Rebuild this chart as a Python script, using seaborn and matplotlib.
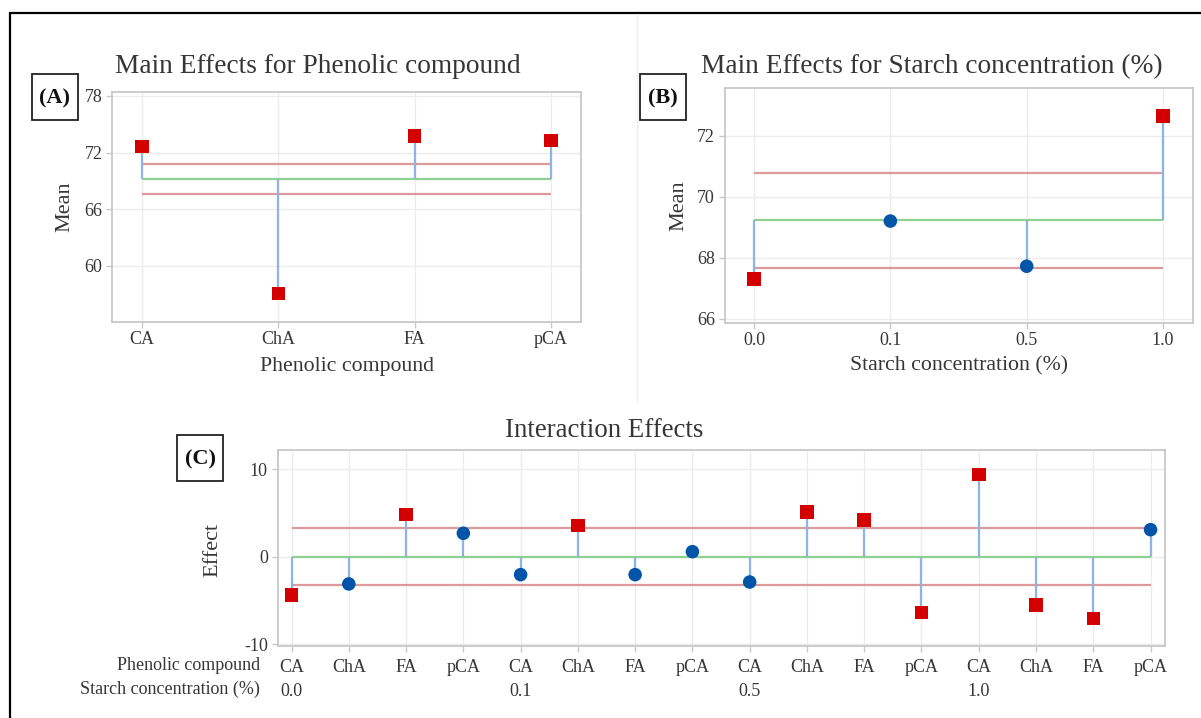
import numpy as np
import pandas as pd
import matplotlib
matplotlib.use("Agg")
import matplotlib.pyplot as plt
import matplotlib.patches as mpatches
from matplotlib.lines import Line2D
import seaborn as sns

# ---------------- data ----------------
phenolic_labels = ["CA", "ChA", "FA", "pCA"]
phenolic_means = [72.65, 57.1, 73.75, 73.3]
phenolic_center = 69.2
phenolic_limits = [67.65, 70.75]

starch_labels = ["0.0", "0.1", "0.5", "1.0"]
starch_means = [67.3, 69.2, 67.72, 72.65]
starch_center = 69.22
starch_limits = [67.66, 70.79]

inter_phenolic = ["CA", "ChA", "FA", "pCA"] * 4
inter_starch = ["0.0", "", "", "", "0.1", "", "", "", "0.5", "", "", "", "1.0", "", "", ""]
inter_effects = [-4.37, -3.11, 4.83, 2.67, -2.05, 3.58, -2.05, 0.57,
                 -2.89, 5.1, 4.18, -6.38, 9.39, -5.51, -7.03, 3.08]
inter_center = 0.0
inter_limits = [-3.25, 3.25]

# ---------------- style ----------------
sns.set_theme(style="whitegrid")
plt.rcParams["font.family"] = ["Liberation Serif", "DejaVu Serif"]
plt.rcParams["axes.unicode_minus"] = False
TXT = "#363636"
RED = "#d40000"
BLUE = "#0055a8"
STEM = "#8db4e2"
GREEN = "#8fd18f"
LIMIT = "#dc9a9a"
GRID = "#ececec"
SPINE = "#c8c8c8"

W, H = 1201, 718
fig = plt.figure(figsize=(W / 100, H / 100), dpi=100)
fig.patch.set_facecolor("white")


def fx(px):
    return px / W


def fy(py):
    return 1 - py / H


def axes_at(l, t, r, b):
    return fig.add_axes([fx(l), fy(b), (r - l) / W, (b - t) / H])


def style_axes(ax):
    ax.set_facecolor("white")
    for s in ax.spines.values():
        s.set_color(SPINE)
        s.set_linewidth(1.3)
    ax.grid(True, color=GRID, linewidth=1.0)
    ax.tick_params(axis="both", which="both", direction="out", length=4,
                   width=1, color=SPINE, labelsize=13, labelcolor=TXT, pad=3)
    ax.tick_params(axis="x", bottom=True)
    ax.tick_params(axis="y", left=True)


def draw_effects(ax, values, center, limits):
    n = len(values)
    pos = np.arange(n)
    vals = np.asarray(values)
    sig = np.where((vals > limits[1]) | (vals < limits[0]), "out", "in")
    df = pd.DataFrame({"pos": pos, "val": vals, "sig": sig})
    # limit lines and center line
    ax.hlines(limits, pos[0], pos[-1], colors=LIMIT, linewidth=1.6, zorder=2)
    ax.hlines(center, pos[0], pos[-1], colors=GREEN, linewidth=1.6, zorder=2)
    # stems
    ax.vlines(pos, center, vals, colors=STEM, linewidth=1.6, zorder=3)
    sns.scatterplot(data=df, x="pos", y="val", hue="sig", style="sig",
                    hue_order=["out", "in"], style_order=["out", "in"],
                    palette={"out": RED, "in": BLUE},
                    markers={"out": "s", "in": "o"},
                    s=95, edgecolor="none", linewidth=0, legend=False,
                    ax=ax, zorder=4)


def panel_box(l, t, r, b, text):
    fig.patches.append(mpatches.Rectangle((fx(l), fy(b)), (r - l) / W, (b - t) / H,
                                          transform=fig.transFigure, fill=False,
                                          edgecolor="#222222", linewidth=1.3))
    fig.text(fx((l + r) / 2), fy((t + b) / 2 + 1), text, ha="center", va="center",
             fontsize=16, fontweight="bold", color="#111111")


# ---------------- Panel A ----------------
axA = axes_at(112, 92.3, 581, 321.7)
style_axes(axA)
draw_effects(axA, phenolic_means, phenolic_center, phenolic_limits)
axA.set_xlim(-0.22, 3.22)
axA.set_ylim(54.1, 78.39)
axA.set_yticks([60, 66, 72, 78])
axA.set_xticks(np.arange(len(phenolic_labels)))
axA.set_xticklabels(phenolic_labels)
axA.set_xlabel("Phenolic compound", fontsize=15.7, color=TXT)
axA.set_ylabel("Mean", fontsize=16, color=TXT)
axA.xaxis.set_label_coords((347 - 112) / 469, (321.7 - 366) / 229.4)
axA.xaxis.label.set_va("center")
axA.yaxis.set_label_coords((65 - 112) / 469, 0.5)
axA.yaxis.label.set_va("center")
fig.text(fx(317.6), fy(66.7), "Main Effects for Phenolic compound", ha="center",
         va="center", fontsize=19.7, color=TXT)
panel_box(32, 74, 78, 120, "(A)")

# ---------------- Panel B ----------------
axB = axes_at(724.6, 88.3, 1192.7, 322.7)
style_axes(axB)
draw_effects(axB, starch_means, starch_center, starch_limits)
axB.set_xlim(-0.216, 3.218)
axB.set_ylim(65.87, 73.55)
axB.set_yticks([66, 68, 70, 72])
axB.set_xticks(np.arange(len(starch_labels)))
axB.set_xticklabels(starch_labels)
axB.set_xlabel("Starch concentration (%)", fontsize=15.7, color=TXT)
axB.set_ylabel("Mean", fontsize=16, color=TXT)
axB.xaxis.set_label_coords((959 - 724.6) / 468.1, (322.7 - 366) / 234.4)
axB.xaxis.label.set_va("center")
axB.yaxis.set_label_coords((678.6 - 724.6) / 468.1, 0.5)
axB.yaxis.label.set_va("center")
fig.text(fx(932), fy(66.7), "Main Effects for Starch concentration (%)", ha="center",
         va="center", fontsize=19.7, color=TXT)
panel_box(640, 74, 686, 120, "(B)")

# ---------------- Panel C ----------------
axC = axes_at(277.5, 450, 1164.6, 646)
style_axes(axC)
draw_effects(axC, inter_effects, inter_center, inter_limits)
axC.set_xlim(-0.245, 15.245)
axC.set_ylim(-10.19, 12.17)
axC.set_yticks([-10, 0, 10])
axC.set_xticks(np.arange(len(inter_effects)))
axC.set_xticklabels([f"{p}\n{s}" for p, s in zip(inter_phenolic, inter_starch)],
                    linespacing=1.55, va="top")
axC.tick_params(axis="x", pad=5)
axC.set_xlabel("")
axC.set_ylabel("Effect", fontsize=16, color=TXT)
axC.yaxis.set_label_coords((212.4 - 277.5) / 887.1, (646 - 550) / 196)
axC.yaxis.label.set_va("center")
fig.text(fx(260), fy(665.7), "Phenolic compound", ha="right", va="center",
         fontsize=13, color=TXT)
fig.text(fx(260), fy(689.3), "Starch concentration (%)", ha="right", va="center",
         fontsize=13, color=TXT)
fig.text(fx(604), fy(430.7), "Interaction Effects", ha="center", va="center",
         fontsize=19.3, color=TXT)
panel_box(177, 435, 223, 481, "(C)")

# ---------------- frame and separator ----------------
fig.lines.append(Line2D([fx(9.8), fx(9.8)], [fy(12.5), -0.05], transform=fig.transFigure,
                        color="black", linewidth=1.6))
fig.lines.append(Line2D([fx(9.8), 1.05], [fy(12.5), fy(12.5)], transform=fig.transFigure,
                        color="black", linewidth=1.6))
fig.lines.append(Line2D([fx(636.7), fx(636.7)], [fy(14), fy(402)], transform=fig.transFigure,
                        color="#f0f0f0", linewidth=1.0))

fig.savefig("out.png", dpi=100, facecolor="white")
